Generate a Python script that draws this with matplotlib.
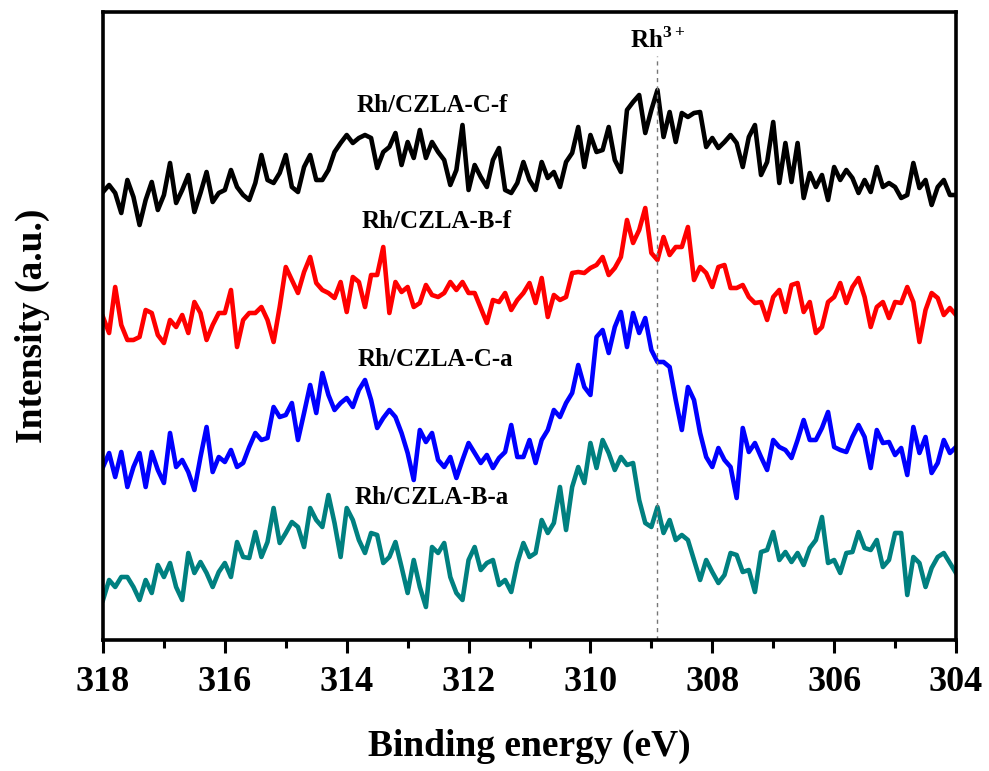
import numpy as np
import matplotlib
matplotlib.use("Agg")
import matplotlib.pyplot as plt
from matplotlib.ticker import MultipleLocator

# Binding energy grid (eV), 318 -> 304 in 0.1 eV steps
energy = np.round(np.arange(318.0, 303.95, -0.1), 1)

# Intensities (a.u., offset stacked as in the figure)
c_f = [448, 455, 447, 427, 460, 443, 415, 440, 458, 430, 445, 477, 437, 450, 465, 428, 447, 468, 438, 447,
       450, 470, 453, 445, 440, 457, 485, 460, 457, 467, 485, 453, 448, 473, 485, 460, 460, 470, 488, 497,
       505, 497, 502, 505, 502, 472, 488, 493, 507, 475, 498, 482, 510, 482, 498, 488, 480, 455, 470, 515,
       450, 475, 463, 453, 480, 492, 450, 447, 457, 478, 460, 450, 478, 462, 468, 453, 478, 487, 513, 473,
       505, 488, 490, 513, 480, 468, 530, 538, 545, 507, 530, 550, 503, 528, 498, 527, 523, 527, 528, 493,
       502, 492, 498, 505, 497, 473, 503, 515, 465, 478, 518, 457, 497, 458, 497, 442, 467, 453, 465, 440,
       473, 460, 470, 462, 447, 460, 448, 473, 453, 457, 453, 442, 445, 477, 452, 460, 435, 453, 460, 445,
       445]
b_f = [323, 307, 353, 315, 300, 300, 303, 330, 327, 305, 297, 320, 313, 325, 307, 338, 327, 300, 315, 327,
       327, 350, 293, 320, 327, 327, 333, 320, 298, 333, 373, 360, 347, 368, 383, 357, 350, 347, 342, 358,
       328, 363, 358, 333, 365, 365, 393, 327, 358, 348, 353, 333, 337, 355, 345, 343, 347, 358, 350, 358,
       347, 347, 332, 317, 340, 338, 347, 330, 340, 347, 357, 337, 362, 323, 345, 340, 343, 367, 368, 367,
       372, 375, 383, 365, 372, 383, 420, 397, 410, 432, 387, 380, 403, 385, 393, 393, 413, 360, 373, 367,
       353, 373, 375, 352, 352, 355, 343, 337, 338, 320, 343, 350, 328, 355, 357, 328, 338, 307, 313, 338,
       343, 357, 337, 353, 362, 343, 313, 333, 338, 322, 338, 337, 353, 338, 298, 330, 347, 342, 325, 332,
       325]
c_a = [173, 187, 163, 188, 153, 173, 187, 153, 188, 170, 157, 207, 173, 180, 168, 150, 183, 213, 168, 183,
       178, 190, 173, 177, 193, 207, 200, 202, 233, 223, 225, 237, 200, 227, 255, 227, 267, 245, 230, 237,
       242, 233, 250, 260, 240, 212, 222, 230, 223, 207, 187, 160, 210, 198, 207, 180, 173, 183, 162, 180,
       197, 187, 177, 185, 172, 182, 188, 215, 183, 183, 200, 177, 200, 210, 230, 223, 237, 247, 275, 253,
       245, 303, 310, 287, 313, 328, 293, 327, 307, 322, 290, 278, 278, 273, 240, 210, 253, 240, 207, 183,
       173, 192, 180, 173, 142, 212, 188, 197, 183, 170, 200, 193, 190, 182, 200, 220, 200, 200, 212, 228,
       193, 190, 188, 203, 215, 203, 172, 210, 197, 198, 185, 192, 165, 213, 187, 203, 167, 177, 200, 187,
       193]
b_a = [40, 60, 53, 63, 63, 53, 40, 60, 47, 75, 63, 77, 53, 40, 87, 67, 78, 67, 53, 68,
       77, 63, 98, 83, 82, 108, 83, 98, 132, 97, 107, 118, 113, 93, 132, 120, 113, 145, 117, 83,
       132, 120, 100, 87, 107, 105, 77, 83, 98, 73, 47, 80, 53, 33, 93, 87, 97, 63, 47, 40,
       80, 93, 70, 77, 80, 55, 60, 48, 77, 97, 83, 87, 120, 107, 117, 153, 110, 153, 173, 157,
       197, 172, 200, 187, 170, 183, 175, 177, 140, 117, 113, 133, 107, 120, 100, 105, 100, 80, 60, 80,
       68, 57, 65, 87, 85, 68, 70, 48, 88, 90, 108, 80, 88, 78, 87, 75, 92, 100, 123, 77,
       80, 67, 87, 88, 108, 92, 90, 100, 73, 80, 107, 107, 45, 83, 77, 53, 72, 83, 87, 77,
       67]

series_names = ["Rh/CZLA-C-f", "Rh/CZLA-B-f", "Rh/CZLA-C-a", "Rh/CZLA-B-a"]
series_values = [c_f, b_f, c_a, b_a]
series_colors = ["#000000", "#FF0000", "#0000FF", "#008080"]
label_pos = [(312.6, 534), (312.52, 418), (312.55, 281), (312.6, 142)]

rh3_energy = 308.9
x_ticks = [318, 316, 314, 312, 310, 308, 306, 304]

plt.rcParams['font.family'] = ['Liberation Serif', 'DejaVu Serif']
plt.rcParams['mathtext.fontset'] = 'custom'
plt.rcParams['mathtext.rm'] = 'Liberation Serif'
plt.rcParams['mathtext.bf'] = 'Liberation Serif:bold'

fig = plt.figure(figsize=(9.89, 7.71), dpi=100)
ax = fig.add_axes([103 / 989, 1 - 640 / 771, (956 - 103) / 989, (640 - 12) / 771])

for vals, col in zip(series_values, series_colors):
    ax.plot(energy, vals, color=col, lw=3.3, solid_joinstyle='round')

ax.vlines(rh3_energy, 0, 584, colors='#777777', linestyles=(0, (3, 3)), lw=1.0)

for name, (ex, ey) in zip(series_names, label_pos):
    ax.text(ex, ey, name, ha='center', va='center', fontsize=18, fontweight='bold')

ax.text(rh3_energy, 600, r'Rh$^{\mathbf{3+}}$', ha='center', va='center', fontsize=18, fontweight='bold')

ax.set_xlim(318, 304)
ax.set_ylim(0, 628)
ax.set_xticks(x_ticks)
ax.xaxis.set_minor_locator(MultipleLocator(1))
ax.set_yticks([])
ax.tick_params(axis='x', which='major', direction='out', length=9.5, width=2.2, pad=9, labelsize=26)
ax.tick_params(axis='x', which='minor', direction='out', length=5.5, width=2.2)
for lab in ax.get_xticklabels():
    lab.set_fontweight('bold')
for sp in ax.spines.values():
    sp.set_linewidth(2.6)

ax.set_xlabel('Binding energy (eV)', fontsize=27, fontweight='bold', labelpad=22)
ax.set_ylabel('Intensity (a.u.)', fontsize=27, fontweight='bold', labelpad=38)

fig.savefig('out.png', dpi=100)
